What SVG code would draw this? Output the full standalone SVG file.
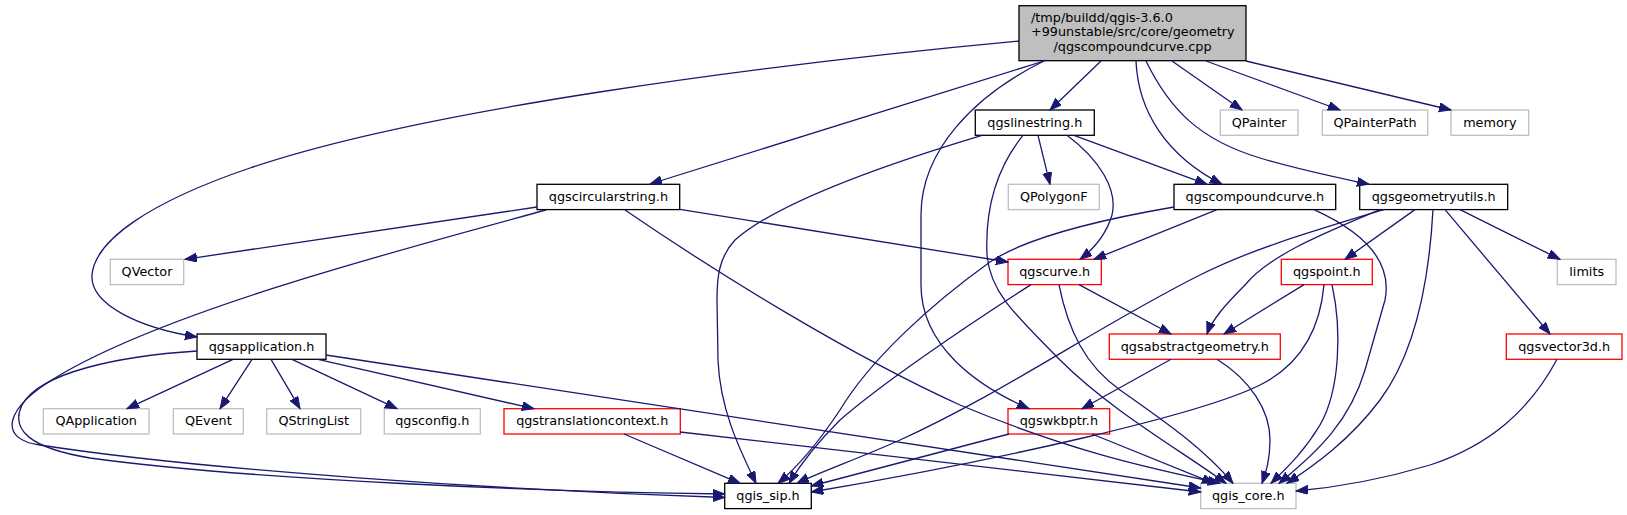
<svg xmlns="http://www.w3.org/2000/svg" width="1627" height="515" viewBox="0 0 1627 515">
<defs>
<style>
.n rect{fill:#fff;stroke:#000;stroke-width:1.3}
.n.g rect{stroke:#bfbfbf}
.n.r rect{stroke:#ff0000}
.n.m rect{fill:#bfbfbf}
text{font-family:"DejaVu Sans",sans-serif;font-size:12.8px;fill:#000}
.n text{text-anchor:middle}
#edges path{fill:none;stroke:#191970;stroke-width:1.3;marker-end:url(#a)}
</style>
<marker id="a" markerWidth="13" markerHeight="10" refX="12" refY="4.5" orient="auto" markerUnits="userSpaceOnUse">
<path d="M0,0 L12,4.5 L0,9 z" fill="#191970" stroke="#191970" stroke-width="1"/>
</marker>
</defs>
<rect width="1627" height="515" fill="#fff"/>
<g id="nodes">
<g id="main" class="n m"><rect x="1019" y="5.7" width="227" height="55"/>
<text x="1031" y="21.5" style="text-anchor:start">/tmp/buildd/qgis-3.6.0</text>
<text x="1031" y="36" style="text-anchor:start">+99unstable/src/core/geometry</text>
<text x="1132.5" y="50.5">/qgscompoundcurve.cpp</text></g>
<g id="qgslinestring" class="n"><rect x="975.3" y="110" width="119" height="25.3"/><text x="1034.8" y="126.7">qgslinestring.h</text></g>
<g id="QPainter" class="n g"><rect x="1220.3" y="110" width="77.7" height="25.3"/><text x="1259.2" y="126.7">QPainter</text></g>
<g id="QPainterPath" class="n g"><rect x="1322.3" y="110" width="105.4" height="25.3"/><text x="1375" y="126.7">QPainterPath</text></g>
<g id="memory" class="n g"><rect x="1451" y="110" width="77.7" height="25.3"/><text x="1489.9" y="126.7">memory</text></g>
<g id="qgscircularstring" class="n"><rect x="537" y="184.3" width="142.7" height="25.3"/><text x="608.4" y="201">qgscircularstring.h</text></g>
<g id="QPolygonF" class="n g"><rect x="1008.3" y="184.3" width="91" height="25.3"/><text x="1053.8" y="201">QPolygonF</text></g>
<g id="qgscompoundcurve" class="n"><rect x="1174" y="184.3" width="161.7" height="25.3"/><text x="1254.9" y="201">qgscompoundcurve.h</text></g>
<g id="qgsgeometryutils" class="n"><rect x="1359.7" y="184.3" width="148" height="25.3"/><text x="1433.7" y="201">qgsgeometryutils.h</text></g>
<g id="QVector" class="n g"><rect x="110.3" y="259.3" width="73.4" height="25.3"/><text x="147" y="276">QVector</text></g>
<g id="qgscurve" class="n r"><rect x="1008" y="259.3" width="93.3" height="25.3"/><text x="1054.7" y="276">qgscurve.h</text></g>
<g id="qgspoint" class="n r"><rect x="1281.3" y="259.3" width="91" height="25.3"/><text x="1326.8" y="276">qgspoint.h</text></g>
<g id="limits" class="n g"><rect x="1557.3" y="259.3" width="58.7" height="25.3"/><text x="1586.7" y="276">limits</text></g>
<g id="qgsapplication" class="n"><rect x="197" y="334" width="129" height="25.3"/><text x="261.5" y="350.7">qgsapplication.h</text></g>
<g id="qgsabstractgeometry" class="n r"><rect x="1109.3" y="334" width="171" height="25.3"/><text x="1194.8" y="350.7">qgsabstractgeometry.h</text></g>
<g id="qgsvector3d" class="n r"><rect x="1506.3" y="334" width="115.7" height="25.3"/><text x="1564.2" y="350.7">qgsvector3d.h</text></g>
<g id="QApplication" class="n g"><rect x="43.3" y="408.7" width="105.7" height="25.3"/><text x="96.2" y="425.4">QApplication</text></g>
<g id="QEvent" class="n g"><rect x="173.3" y="408.7" width="70" height="25.3"/><text x="208.3" y="425.4">QEvent</text></g>
<g id="QStringList" class="n g"><rect x="266.7" y="408.7" width="94" height="25.3"/><text x="313.7" y="425.4">QStringList</text></g>
<g id="qgsconfig" class="n g"><rect x="384.3" y="408.7" width="96" height="25.3"/><text x="432.3" y="425.4">qgsconfig.h</text></g>
<g id="qgstranslationcontext" class="n r"><rect x="504" y="408.7" width="176.3" height="25.3"/><text x="592.2" y="425.4">qgstranslationcontext.h</text></g>
<g id="qgswkbptr" class="n r"><rect x="1008" y="408.7" width="101.7" height="25.3"/><text x="1058.9" y="425.4">qgswkbptr.h</text></g>
<g id="qgis_sip" class="n"><rect x="724.7" y="483.3" width="86.6" height="25.3"/><text x="768" y="500">qgis_sip.h</text></g>
<g id="qgis_core" class="n g"><rect x="1200.7" y="483.3" width="95.3" height="25.3"/><text x="1248.3" y="500">qgis_core.h</text></g>
</g>
<g id="edges">
<path d="M1019,41 C760,65 420,110 250,168 C150,202 95,240 92,275 C90,305 140,328 197,337"/>
<path d="M1044,61 L650,184"/>
<path d="M1044,61 C975,95 921,150 921,215 L921,285 C921,345 975,385 1029,408.7"/>
<path d="M1101,61 L1050,110"/>
<path d="M1136,61 C1138,110 1165,155 1222,184.3"/>
<path d="M1146,61 C1170,110 1200,140 1260,158 C1300,170 1335,177 1369,184.3"/>
<path d="M1172,61 L1242,110"/>
<path d="M1206,61 L1340,110"/>
<path d="M1246,61 L1451,110"/>
<path d="M1038,135.3 L1050,184.3"/>
<path d="M1074,135.3 L1207,184.3"/>
<path d="M1067,135.3 C1100,160 1118,190 1112,215 C1106,235 1095,248 1080,259.3"/>
<path d="M982,135.3 C900,160 780,200 735,240 C718,258 717,280 717,300 L718,360 C720,410 740,450 756,483.3"/>
<path d="M1023,135.3 C995,170 985,210 987,255 C990,290 1010,310 1060,360 C1110,410 1180,450 1226,483.3"/>
<path d="M537,207 L185,259.3"/>
<path d="M546,210 C400,250 170,310 60,375 C0,410 0,440 40,445 C200,470 500,490 724.7,497.5"/>
<path d="M625,210 C720,275 850,355 960,405 C1080,455 1160,470 1220,483.3"/>
<path d="M680,209.3 L1008,262"/>
<path d="M1217,209.6 L1094,259.3"/>
<path d="M1174,207 C1110,218 1030,235 990,262 C930,305 870,360 840,410 C820,440 800,465 778,483.3"/>
<path d="M1314,209.6 C1370,235 1392,265 1385,300 L1365,370 C1350,420 1320,450 1279,483.3"/>
<path d="M1384,209.6 C1300,235 1250,250 1200,275 C1100,325 1000,395 900,440 C860,458 820,472 797,483.3"/>
<path d="M1380,209.6 C1320,235 1270,255 1245,285 C1225,305 1212,320 1207,334"/>
<path d="M1415,209.6 L1345,259.3"/>
<path d="M1433,209.6 C1428,300 1410,360 1380,400 C1350,440 1315,465 1287,483.3"/>
<path d="M1445,209.6 L1550,334"/>
<path d="M1460,209.6 L1560,259.3"/>
<path d="M1079,284.6 L1171,334"/>
<path d="M1031,284.6 C960,330 880,385 840,420 C815,445 800,465 789,483.3"/>
<path d="M1059,284.6 C1068,330 1085,365 1120,390 C1170,425 1205,450 1233,483.3"/>
<path d="M1304,284.6 L1224,334"/>
<path d="M1324,284.6 C1320,330 1300,365 1260,385 C1200,415 1000,460 811.3,492"/>
<path d="M1332,284.6 C1342,330 1340,390 1320,425 C1305,450 1290,465 1271,483.3"/>
<path d="M1171,359.3 L1082,408.7"/>
<path d="M1217,359.3 C1250,380 1270,410 1270,440 C1270,460 1266,472 1262,483.3"/>
<path d="M1557,359.3 C1530,410 1490,445 1430,465 C1380,480 1340,487 1296,491"/>
<path d="M1009,434 L811.3,486"/>
<path d="M1092,434 L1214,483.3"/>
<path d="M233,359.3 L127,408.7"/>
<path d="M252,359.3 L220,408.7"/>
<path d="M271,359.3 L300,408.7"/>
<path d="M292,359.3 L397,408.7"/>
<path d="M318,359.3 L534,408.7"/>
<path d="M197,351 C120,356 40,372 22,405 C10,430 30,448 90,458 C250,480 550,492 724.7,494"/>
<path d="M326,355 L1200.7,488"/>
<path d="M624,434 L740,483.3"/>
<path d="M680,432 L1200.7,492"/>
</g>
</svg>
